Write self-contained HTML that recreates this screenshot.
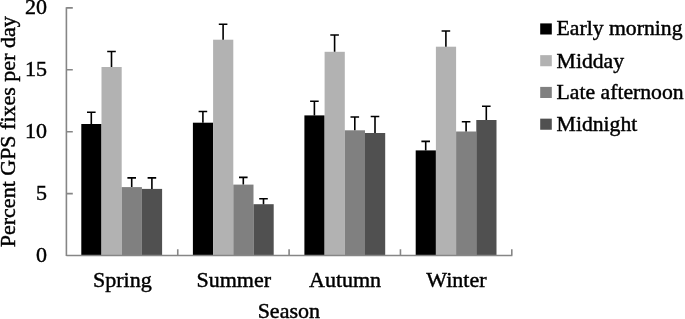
<!DOCTYPE html>
<html><head><meta charset="utf-8"><title>Percent GPS fixes per day by season</title>
<style>
html,body{margin:0;padding:0;background:#fff;}
body{width:685px;height:319px;overflow:hidden;}
svg{display:block;}
text{font-family:"Liberation Serif",serif;font-size:22px;fill:#000;stroke:#000;stroke-width:0.45px;}
</style></head><body>
<svg width="685" height="319" viewBox="0 0 685 319">
<rect width="685" height="319" fill="#fff"/>

<rect x="81.30" y="124.00" width="20.20" height="131.50" fill="#000000"/>
<rect x="101.50" y="67.00" width="20.20" height="188.50" fill="#b2b2b2"/>
<rect x="121.70" y="187.10" width="20.20" height="68.40" fill="#808080"/>
<rect x="141.90" y="188.90" width="20.20" height="66.60" fill="#505050"/>
<path d="M91.30 124.00V112.20M87.00 112.20H95.60" stroke="#000" stroke-width="1.6" fill="none"/>
<path d="M111.50 67.00V51.50M107.20 51.50H115.80" stroke="#000" stroke-width="1.6" fill="none"/>
<path d="M131.70 187.10V177.90M127.40 177.90H136.00" stroke="#000" stroke-width="1.6" fill="none"/>
<path d="M151.90 188.90V177.90M147.60 177.90H156.20" stroke="#000" stroke-width="1.6" fill="none"/>
<rect x="192.90" y="122.70" width="20.20" height="132.80" fill="#000000"/>
<rect x="213.10" y="39.70" width="20.20" height="215.80" fill="#b2b2b2"/>
<rect x="233.30" y="184.60" width="20.20" height="70.90" fill="#808080"/>
<rect x="253.50" y="204.20" width="20.20" height="51.30" fill="#505050"/>
<path d="M202.90 122.70V111.50M198.60 111.50H207.20" stroke="#000" stroke-width="1.6" fill="none"/>
<path d="M223.10 39.70V24.20M218.80 24.20H227.40" stroke="#000" stroke-width="1.6" fill="none"/>
<path d="M243.30 184.60V177.40M239.00 177.40H247.60" stroke="#000" stroke-width="1.6" fill="none"/>
<path d="M263.50 204.20V198.70M259.20 198.70H267.80" stroke="#000" stroke-width="1.6" fill="none"/>
<rect x="304.40" y="115.40" width="20.20" height="140.10" fill="#000000"/>
<rect x="324.60" y="51.80" width="20.20" height="203.70" fill="#b2b2b2"/>
<rect x="344.80" y="130.30" width="20.20" height="125.20" fill="#808080"/>
<rect x="365.00" y="133.00" width="20.20" height="122.50" fill="#505050"/>
<path d="M314.40 115.40V101.20M310.10 101.20H318.70" stroke="#000" stroke-width="1.6" fill="none"/>
<path d="M334.60 51.80V35.00M330.30 35.00H338.90" stroke="#000" stroke-width="1.6" fill="none"/>
<path d="M354.80 130.30V117.00M350.50 117.00H359.10" stroke="#000" stroke-width="1.6" fill="none"/>
<path d="M375.00 133.00V116.50M370.70 116.50H379.30" stroke="#000" stroke-width="1.6" fill="none"/>
<rect x="415.70" y="150.40" width="20.20" height="105.10" fill="#000000"/>
<rect x="435.90" y="46.70" width="20.20" height="208.80" fill="#b2b2b2"/>
<rect x="456.10" y="131.50" width="20.20" height="124.00" fill="#808080"/>
<rect x="476.30" y="120.00" width="20.20" height="135.50" fill="#505050"/>
<path d="M425.70 150.40V141.40M421.40 141.40H430.00" stroke="#000" stroke-width="1.6" fill="none"/>
<path d="M445.90 46.70V31.00M441.60 31.00H450.20" stroke="#000" stroke-width="1.6" fill="none"/>
<path d="M466.10 131.50V121.80M461.80 121.80H470.40" stroke="#000" stroke-width="1.6" fill="none"/>
<path d="M486.30 120.00V106.20M482.00 106.20H490.60" stroke="#000" stroke-width="1.6" fill="none"/>
<path d="M66.40 7.30V256.10M66.40 255.50H512.40M66.40 193.60h6.4M66.40 131.70h6.4M66.40 69.80h6.4M66.40 7.90h6.4M177.75 255.50v-6.3M289.10 255.50v-6.3M400.45 255.50v-6.3M511.80 255.50v-6.3" stroke="#868686" stroke-width="1.6" fill="none"/>
<text x="46.9" y="261.80" text-anchor="end">0</text>
<text x="46.9" y="200.00" text-anchor="end">5</text>
<text x="46.9" y="138.20" text-anchor="end">10</text>
<text x="46.9" y="76.30" text-anchor="end">15</text>
<text x="46.9" y="14.20" text-anchor="end">20</text>
<text x="122.38" y="286.9" text-anchor="middle">Spring</text>
<text x="233.72" y="286.9" text-anchor="middle">Summer</text>
<text x="345.07" y="286.9" text-anchor="middle">Autumn</text>
<text x="456.43" y="286.9" text-anchor="middle">Winter</text>
<text x="288.80" y="318.2" text-anchor="middle">Season</text>
<text transform="translate(15.2 131.75) rotate(-90)" text-anchor="middle">Percent GPS fixes per day</text>
<rect x="540.2" y="23.40" width="11.6" height="11.1" fill="#000000"/>
<text x="556.6" y="35.20" style="font-size:21.7px">Early morning</text>
<rect x="540.2" y="55.15" width="11.6" height="11.1" fill="#b2b2b2"/>
<text x="556.6" y="67.90" style="font-size:21.7px">Midday</text>
<rect x="540.2" y="86.90" width="11.6" height="11.1" fill="#808080"/>
<text x="556.6" y="99.20" style="font-size:21.7px">Late afternoon</text>
<rect x="540.2" y="118.65" width="11.6" height="11.1" fill="#505050"/>
<text x="556.6" y="131.40" style="font-size:21.7px">Midnight</text>
</svg></body></html>
